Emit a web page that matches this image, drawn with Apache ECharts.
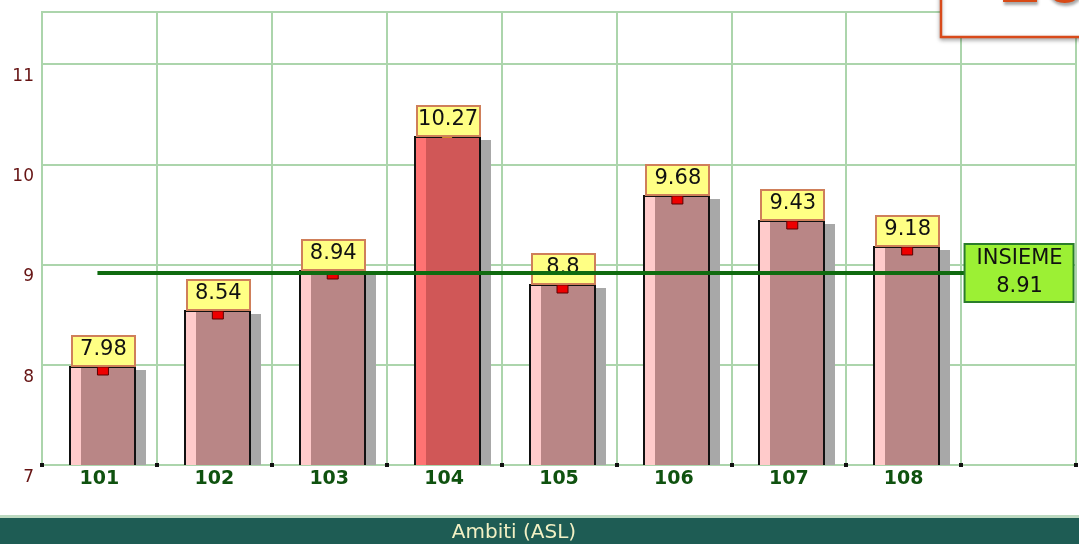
<!DOCTYPE html>
<html>
<head>
<meta charset="utf-8">
<script src="https://cdn.jsdelivr.net/npm/echarts@6/dist/echarts.min.js"></script>
<style>
html,body{margin:0;padding:0;background:#fff;}
#chart{width:1079px;height:544px;}
</style>
</head>
<body>
<div id="chart"></div>
<script>
// ---- data ----
const categories = ['101', '102', '103', '104', '105', '106', '107', '108'];
const values = [7.98, 8.54, 8.94, 10.27, 8.8, 9.68, 9.43, 9.18];
const overallLabel = 'INSIEME';
const overallValue = 8.91;
const highlightedCategory = '104';
const axisTitle = 'Ambiti (ASL)';
const cornerText = '20';
const yMin = 7;
const yMax = 11.52;
const yInterval = 1;

// ---- chart ----
const chart = echarts.init(document.getElementById('chart'), null, {renderer: 'canvas'});
const axisCategories = categories.concat(['']);
const GRID_GREEN = '#acd5ac';
const FONT = '"DejaVu Sans", sans-serif';

function renderBar(params, api) {
  const idx = api.value(0);
  const v = api.value(1);
  const top = api.coord([idx, v]);
  const base = api.coord([idx, yMin]);
  const band = api.size([1, 0])[0];
  const bw = Math.round(band * 0.565);
  const cx = top[0] + 3;
  const x0 = Math.round(cx - bw / 2);
  const yT = Math.round(top[1]);
  const yB = Math.round(base[1]);
  const hl = categories[idx] === highlightedCategory;
  const body = hl ? '#d05757' : '#b98686';
  const strip = hl ? '#ff7373' : '#ffcbcb';
  const children = [
    {type: 'rect', shape: {x: x0 + bw, y: yT + 3, width: 11, height: yB - yT - 3}, style: {fill: '#a8a8a8'}},
    {type: 'rect', shape: {x: x0, y: yT, width: bw, height: yB - yT}, style: {fill: body}},
    {type: 'rect', shape: {x: x0, y: yT, width: 11, height: yB - yT}, style: {fill: strip}},
    {type: 'polyline', shape: {points: [[x0, yB], [x0, yT], [x0 + bw, yT], [x0 + bw, yB]]},
      style: {stroke: '#111', lineWidth: 2, fill: null}}
  ];
  if (hl) {
    children.push({type: 'rect', shape: {x: cx - 5, y: yT - 2, width: 10, height: 3}, style: {fill: '#d08a2a'}});
  } else {
    children.push({type: 'rect', shape: {x: cx - 5, y: yT, width: 11, height: 8},
      style: {fill: '#ee0000', stroke: '#5a0000', lineWidth: 1}});
  }
  children.push({type: 'rect', shape: {x: x0 + 2, y: yT - 31, width: bw - 2, height: 30},
    style: {fill: '#ffff84', stroke: '#cf7f5a', lineWidth: 2}});
  children.push({type: 'text', style: {text: String(values[idx]), x: cx + 1, y: yT - 17,
    align: 'center', verticalAlign: 'middle', font: '21px ' + FONT, fill: '#111'}});
  return {type: 'group', children: children};
}

function renderOverall(params, api) {
  const end = api.coord([api.value(0), api.value(1)]);
  const start = api.coord([0, api.value(1)]);
  const y = Math.round(end[1]) - 1;
  return {
    type: 'group',
    children: [
      {type: 'line', shape: {x1: start[0] - 2, y1: y, x2: end[0], y2: y},
        style: {stroke: '#0f6b0f', lineWidth: 4}},
      {type: 'rect', shape: {x: end[0] - 54, y: y - 29, width: 109, height: 58},
        style: {fill: '#9cf034', stroke: '#2a7d2a', lineWidth: 2}},
      {type: 'text', style: {text: overallLabel + '\n' + String(overallValue), x: end[0] + 1, y: y,
        align: 'center', verticalAlign: 'middle', font: '21px ' + FONT, lineHeight: 28, fill: '#111'}}
    ]
  };
}

const option = {
  animation: false,
  backgroundColor: '#ffffff',
  grid: {left: 42, right: 3, top: 12, bottom: 79, show: true, borderColor: GRID_GREEN, borderWidth: 2},
  xAxis: [{
    type: 'category',
    data: axisCategories,
    boundaryGap: true,
    axisLine: {show: true, lineStyle: {color: GRID_GREEN, width: 2}},
    axisTick: {show: true, inside: true, length: 2, lineStyle: {color: '#111', width: 4}},
    splitLine: {show: true, lineStyle: {color: GRID_GREEN, width: 2}},
    axisLabel: {margin: 5, color: '#0f520f', fontWeight: 'bold', fontSize: 19, fontFamily: FONT, lineHeight: 19}
  }, {
    type: 'category',
    data: axisCategories,
    position: 'bottom',
    boundaryGap: true,
    axisLine: {show: false},
    axisTick: {show: true, inside: false, length: 2, lineStyle: {color: '#111', width: 4}},
    splitLine: {show: false},
    axisLabel: {show: false}
  }],
  yAxis: {
    type: 'value',
    min: yMin,
    max: yMax,
    interval: yInterval,
    axisLine: {show: false},
    axisTick: {show: false},
    splitLine: {show: true, lineStyle: {color: GRID_GREEN, width: 2}},
    axisLabel: {
      showMaxLabel: false,
      color: '#661414', fontSize: 17, fontFamily: FONT, margin: 8,
      verticalAlign: 'top', lineHeight: 17, padding: [4, 0, 0, 0]
    }
  },
  series: [{
    type: 'custom',
    name: 'valori',
    renderItem: renderBar,
    encode: {x: 0, y: 1},
    data: values.map((v, i) => [i, v]),
    z: 2,
    clip: false
  }, {
    type: 'custom',
    name: 'insieme',
    renderItem: renderOverall,
    encode: {x: 0, y: 1},
    data: [[categories.length, overallValue]],
    z: 5,
    clip: false
  }],
  graphic: [
    {type: 'rect', shape: {x: 0, y: 515, width: 1079, height: 3}, style: {fill: '#bcd9c0'}, z: 10},
    {type: 'rect', shape: {x: 0, y: 518, width: 1079, height: 26}, style: {fill: '#1e5c54'}, z: 10},
    {type: 'text', style: {text: axisTitle, x: 514, y: 533, align: 'center', verticalAlign: 'middle',
      font: '20px ' + FONT, fill: '#f2f0c4'}, z: 11},
    {type: 'rect', shape: {x: 941, y: -10, width: 160, height: 47},
      style: {fill: '#ffffff', stroke: '#d84a1a', lineWidth: 2.5, shadowBlur: 4,
        shadowColor: 'rgba(0,0,0,0.3)', shadowOffsetY: 2}, z: 20},
    {type: 'text', style: {text: cornerText, x: 998, y: -15, align: 'left', verticalAlign: 'middle',
      font: 'bold 64px ' + FONT, fill: '#d84a16', textShadowColor: 'rgba(0,0,0,0.35)',
      textShadowBlur: 3, textShadowOffsetX: 1, textShadowOffsetY: 3}, z: 21}
  ]
};
chart.setOption(option);
</script>
</body>
</html>
